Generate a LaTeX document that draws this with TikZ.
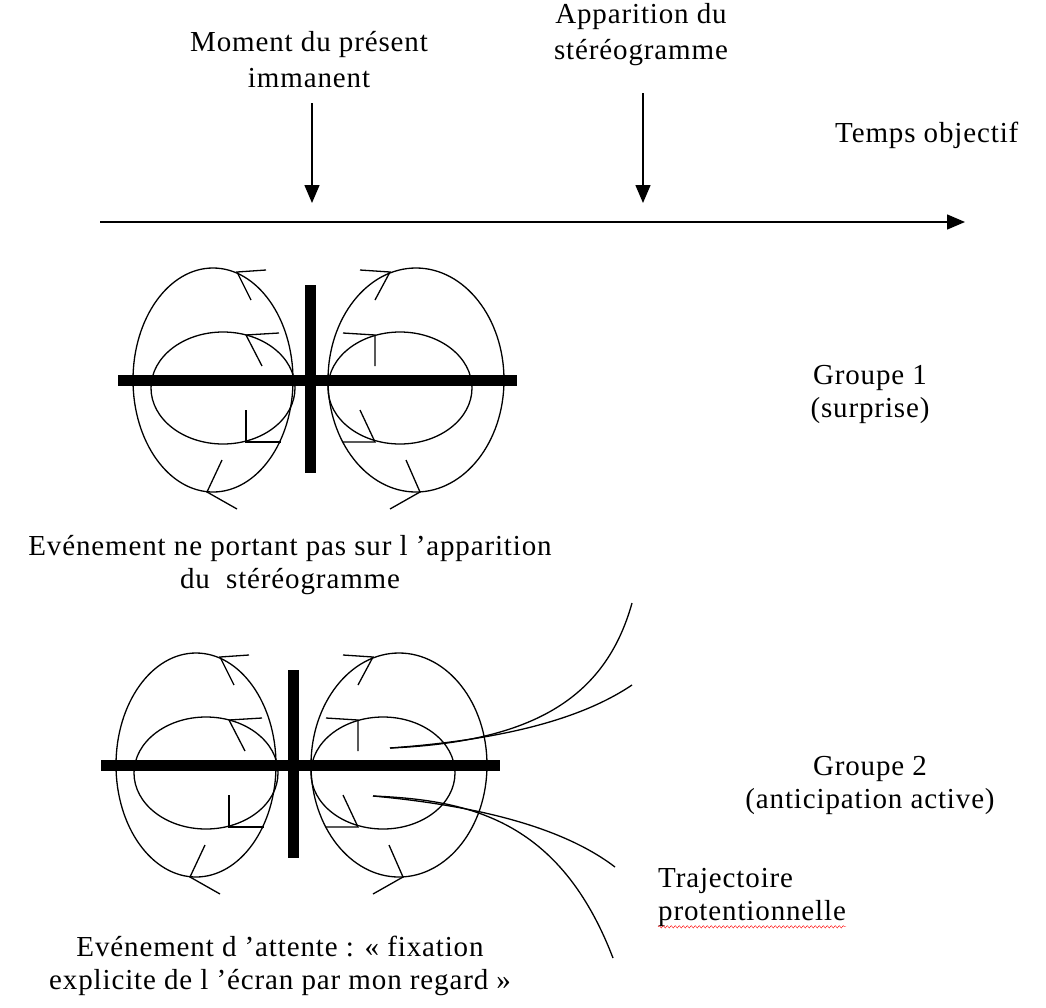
\documentclass[tikz,border=0pt]{standalone}
\usepackage{fontspec}
\setmainfont{Liberation Serif}[LetterSpace=3]
\usetikzlibrary{arrows.meta,decorations.pathmorphing}

\tikzset{
    texte/.style={inner sep=0pt, align=center, font=\fontsize{29}{33}\selectfont},
    fleche/.style={line width=1.5pt, -{Triangle[length=18pt,width=15pt]}},
    trait/.style={line width=1.3pt},
    barre/.style={line width=11pt},
    % un groupe : deux paires d'ellipses autour de la croix
    groupe/.pic={
        \draw[barre] (-192, 0) -- (207, 0);
        \draw[barre] (0, -95) -- (0, 93);
        \draw[trait] (-97, 0) ellipse (80 and 112);
        \draw[trait] (106, 0) ellipse (88 and 112);
        \draw[trait] (-87, 8) ellipse (72 and 56);
        \draw[trait] (90, 8) ellipse (72 and 56);
        % pointes de fleche ouvertes
        \foreach \a/\b/\c in {
            {(-44,-110)}/{(-73,-108)}/{(-59,-80)},
            {(-88,80)}/{(-103,112)}/{(-73,129)},
            {(-31,-47)}/{(-64,-45)}/{(-48,-14)},
            {(-64,30)}/{(-64,62)}/{(-29,62)},
            {(50,-110)}/{(80,-108)}/{(65,-80)},
            {(96,80)}/{(110,112)}/{(80,129)},
            {(33,-47)}/{(65,-45)}/{(65,-14)},
            {(50,30)}/{(65,62)}/{(33,62)}}
            \draw[trait] \a -- \b -- \c;
    }
}

\begin{document}
\begin{tikzpicture}[x=1pt, y=-1pt]
    \useasboundingbox (0, 0) rectangle (1046, 1007);

    % axe du temps
    \coordinate (t0) at (100, 222);
    \coordinate (t1) at (965, 222);
    \draw[fleche] (t0) -- (t1);
    \node[texte, anchor=west] (temps) at (835, 135) {Temps objectif};

    % les deux instants
    \node[texte, font=\fontsize{29}{36}\selectfont] (moment) at (309, 60) {Moment du présent\\immanent};
    \node[texte, font=\fontsize{29}{36}\selectfont] (appar) at (641, 35) {Apparition du\\stéréogramme};
    \coordinate (m0) at (312, 103);
    \coordinate (m1) at (312, 203);
    \coordinate (a0) at (643, 93);
    \coordinate (a1) at (643, 203);
    \draw[fleche] (m0) -- (m1);
    \draw[fleche] (a0) -- (a1);

    % groupe 1
    \pic at (310, 380) {groupe};
    \node[texte] (g1) at (870, 394) {Groupe 1\\(surprise)};
    \node[texte] (ev1) at (290, 565) {Evénement ne portant pas sur l ’apparition\\du \ stéréogramme};

    % groupe 2
    \pic at (293, 765) {groupe};
    \node[texte] (g2) at (870, 785) {Groupe 2\\(anticipation active)};
    \node[texte] (ev2) at (280, 966) {Evénement d ’attente : « fixation\\explicite de l ’écran par mon regard »};

    % trajectoires protentionnelles
    \coordinate (c1) at (390, 748);
    \coordinate (c2) at (373, 796);
    \coordinate (e1) at (632, 603);
    \coordinate (e2) at (632, 685);
    \coordinate (e3) at (615, 867);
    \coordinate (e4) at (613, 958);
    \draw[trait] (c1) .. controls (530, 742) and (605, 700) .. (e1);
    \draw[trait] (c1) .. controls (500, 740) and (580, 720) .. (e2);
    \draw[trait] (c2) .. controls (470, 805) and (560, 825) .. (e3);
    \draw[trait] (c2) .. controls (470, 800) and (560, 820) .. (e4);

    \node[texte, align=left, anchor=north west] (traj) at (658, 868) {Trajectoire\\protentionnelle};
    \draw[red, decorate, decoration={snake, amplitude=1.2pt, segment length=4pt}]
        (traj.south west) -- (traj.south east);

\end{tikzpicture}
\end{document}
